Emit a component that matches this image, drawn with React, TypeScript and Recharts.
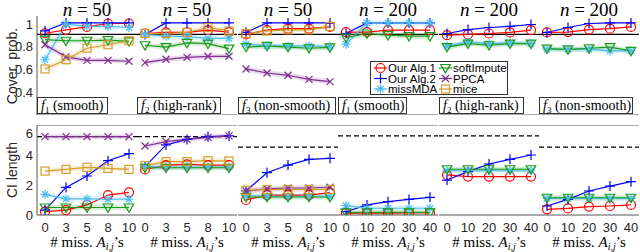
import React from "react"
import { LineChart, Line, XAxis, YAxis, ReferenceLine } from "recharts"

// x positions inside each panel (0..4), labelled by the number of missing entries
const steps = [0, 1, 2, 3, 4]
const ticks50 = ["0", "3", "5", "8", "10"]
const ticks200 = ["0", "10", "20", "30", "40"]
const panelN = [50, 50, 50, 200, 200, 200]
const panelFIdx = ["1", "2", "3", "1", "2", "3"]
const panelFName = ["smooth", "high-rank", "non-smooth", "smooth", "high-rank", "non-smooth"]

// coverage probability, one row per panel
const covAlg1 = [
  [0.91, 0.94, 0.965, 0.995, 0.995],
  [0.908, 0.917, 0.917, 0.937, 0.92],
  [0.9, 0.937, 0.95, 0.95, 0.965],
  [0.92, 0.92, 0.937, 0.937, 0.937],
  [0.893, 0.9, 0.908, 0.917, 0.937],
  [0.917, 0.92, 0.942, 0.95, 0.965],
]
const covAlg2 = [
  [0.93, 1, 1, 1, 1],
  [0.9, 1, 1, 1, 1],
  [0.917, 1, 1, 1, 1],
  [0.908, 1, 1, 1, 1],
  [0.908, 0.942, 0.96, 0.97, 0.986],
  [0.917, 0.96, 0.995, 1, 1],
]
const covMissMDA = [
  [0.68, 0.99, 0.97, 0.97, 0.96],
  [0.9, 0.885, 0.88, 0.865, 0.865],
  [0.815, 0.8, 0.8, 0.8, 0.795],
  [0.815, 1, 1, 1, 1],
  [0.8, 0.835, 0.82, 0.826, 0.82],
  [0.77, 0.77, 0.77, 0.757, 0.757],
]
const covSoft = [
  [0.855, 0.845, 0.845, 0.85, 0.84],
  [0.806, 0.79, 0.826, 0.82, 0.777],
  [0.79, 0.8, 0.79, 0.78, 0.787],
  [0.873, 0.908, 0.893, 0.885, 0.885],
  [0.79, 0.82, 0.806, 0.82, 0.82],
  [0.777, 0.77, 0.78, 0.79, 0.757],
]
const covPPCA = [
  [0.81, 0.705, 0.675, 0.675, 0.667],
  [0.655, 0.684, 0.7, 0.71, 0.71],
  [0.6, 0.565, 0.545, 0.51, 0.49],
  null,
  null,
  null,
]
const covMice = [
  [0.6, 0.68, 0.78, 0.81, 0.845],
  [0.908, 0.908, 0.917, 0.96, 0.93],
  [0.908, 0.93, 0.94, 0.94, 0.97],
  null,
  null,
  null,
]

// CI length, one row per panel
const ciAlg1 = [
  [0.22, 0.33, 0.67, 1.33, 1.51],
  [3.04, 3.33, 3.38, 3.33, 3.33],
  [1.0, 1.33, 1.33, 1.33, 1.49],
  [0.12, 0.12, 0.13, 0.14, 0.15],
  [2.67, 2.56, 2.56, 2.56, 2.56],
  [0.38, 0.44, 0.56, 0.6, 0.67],
]
const ciAlg2 = [
  [0.33, 1.84, 2.6, 3.62, 4.09],
  [3.22, 4.67, 5.04, 5.22, 5.27],
  [1.6, 2.82, 3.33, 3.71, 3.78],
  [0.22, 0.67, 0.89, 1.04, 1.18],
  [2.33, 2.89, 3.4, 3.71, 4.0],
  [0.6, 1.04, 1.6, 1.93, 2.22],
]
const ciMissMDA = [
  [1.38, 1.07, 1.07, 1.05, 1.05],
  [3.22, 3.2, 3.2, 3.2, 3.2],
  [1.3, 1.25, 1.25, 1.25, 1.25],
  [0.62, 0.45, 0.45, 0.45, 0.45],
  [2.95, 2.95, 2.95, 2.95, 2.95],
  [1.11, 1.1, 1.1, 1.1, 1.1],
]
const ciSoft = [
  [0.5, 0.5, 0.5, 0.5, 0.5],
  [3.15, 3.15, 3.15, 3.15, 3.15],
  [1.2, 1.2, 1.2, 1.2, 1.2],
  [0.17, 0.17, 0.17, 0.17, 0.17],
  [3.05, 3.05, 3.05, 3.05, 3.05],
  [1.15, 1.15, 1.15, 1.15, 1.15],
]
const ciPPCA = [
  [5.22, 5.22, 5.22, 5.22, 5.22],
  [4.6, 4.89, 5.04, 5.18, 5.27],
  [1.6, 1.75, 1.8, 1.8, 1.85],
  null,
  null,
  null,
]
const ciMice = [
  [2.93, 3.04, 3.18, 3.11, 3.04],
  [3.29, 3.56, 3.56, 3.62, 3.6],
  [1.65, 1.7, 1.7, 1.7, 1.7],
  null,
  null,
  null,
]
const ciBound = [5.22, 5.22, 4.53, 5.27, 5.27, 4.53]

type Kind = "circle" | "plus" | "star" | "tri" | "x" | "square"

const series: { key: string; name: string; color: string; kind: Kind; band: boolean; cov: (number[] | null)[]; ci: (number[] | null)[] }[] = [
  { key: "alg1", name: "Our Alg.1", color: "#FF0000", kind: "circle", band: false, cov: covAlg1, ci: ciAlg1 },
  { key: "alg2", name: "Our Alg.2", color: "#0000FF", kind: "plus", band: false, cov: covAlg2, ci: ciAlg2 },
  { key: "missMDA", name: "missMDA", color: "#4DBEEE", kind: "star", band: true, cov: covMissMDA, ci: ciMissMDA },
  { key: "soft", name: "softImpute", color: "#1A9A1A", kind: "tri", band: true, cov: covSoft, ci: ciSoft },
  { key: "ppca", name: "PPCA", color: "#7E2F8E", kind: "x", band: true, cov: covPPCA, ci: ciPPCA },
  { key: "mice", name: "mice", color: "#D49E2A", kind: "square", band: true, cov: covMice, ci: ciMice },
]

const SANS = "Liberation Sans"
const SERIF = "Liberation Serif"
const PW = 100
const panelLeft = (k: number) => Math.round(37 + k * 100.4)

function Marker({ cx, cy, kind, color }: { cx?: number; cy?: number; kind: Kind; color: string }) {
  if (cx == null || cy == null || isNaN(cx) || isNaN(cy)) return null
  const sw = 1.2
  switch (kind) {
    case "circle":
      return <circle cx={cx} cy={cy} r={4.5} fill="none" stroke={color} strokeWidth={sw} />
    case "plus":
      return <path d={`M${cx - 5},${cy}H${cx + 5}M${cx},${cy - 5}V${cy + 5}`} stroke={color} strokeWidth={sw} fill="none" />
    case "star":
      return (
        <path
          d={`M${cx - 4.5},${cy}H${cx + 4.5}M${cx},${cy - 4.5}V${cy + 4.5}M${cx - 3.2},${cy - 3.2}L${cx + 3.2},${cy + 3.2}M${cx - 3.2},${cy + 3.2}L${cx + 3.2},${cy - 3.2}`}
          stroke={color}
          strokeWidth={sw}
          fill="none"
        />
      )
    case "tri":
      return <path d={`M${cx - 4.8},${cy - 3.5}L${cx + 4.8},${cy - 3.5}L${cx},${cy + 4.8}Z`} stroke={color} strokeWidth={sw} fill="none" />
    case "x":
      return <path d={`M${cx - 3.5},${cy - 3.5}L${cx + 3.5},${cy + 3.5}M${cx - 3.5},${cy + 3.5}L${cx + 3.5},${cy - 3.5}`} stroke={color} strokeWidth={sw} fill="none" />
    case "square":
      return <rect x={cx - 4} y={cy - 4} width={8} height={8} stroke={color} strokeWidth={sw} fill="none" />
  }
  return null
}

const tickStyle = { fontSize: 13, fill: "#262626", fontFamily: SANS }

function Panel({ k, row }: { k: number; row: "cov" | "ci" }) {
  const first = k === 0
  const isTop = row === "cov"
  const data = steps.map((i) => {
    const d: Record<string, number | null> = { i }
    series.forEach((s) => {
      const arr = s[row][k]
      d[s.key] = arr ? arr[i] : null
    })
    return d
  })
  const shown = series.filter((s) => s[row][k] != null)
  const labels = panelN[k] === 50 ? ticks50 : ticks200
  return (
    <div style={{ position: "absolute", left: first ? 0 : panelLeft(k), top: isTop ? 16 : 125 }}>
      <LineChart width={first ? 37 + PW : PW} height={isTop ? 99 : 120} data={data} margin={{ top: 0, right: 0, bottom: 0, left: 0 }}>
        <XAxis
          type="number"
          dataKey="i"
          domain={[-8 / 21, -8 / 21 + 100 / 21]}
          ticks={steps}
          hide={isTop}
          height={30}
          tickFormatter={(v) => labels[v] ?? ""}
          tickLine={false}
          axisLine={{ stroke: "#555" }}
          tick={tickStyle}
          interval={0}
        />
        <YAxis
          type="number"
          domain={isTop ? [0.2, 1.06] : [0, 6]}
          ticks={isTop ? [0.2, 0.4, 0.6, 0.8, 1] : [0, 2, 4, 6]}
          hide={!first}
          width={37}
          tickSize={2}
          tickMargin={2}
          tickLine={false}
          axisLine={{ stroke: "#555" }}
          tick={tickStyle}
          tickFormatter={(v) => String(v)}
          allowDataOverflow
        />
        {isTop ? <ReferenceLine y={0.2} stroke="#555" /> : <ReferenceLine y={6} stroke="#555" />}
        {isTop && <ReferenceLine y={0.9} stroke="#000" strokeWidth={1.3} />}
        {!isTop && <ReferenceLine y={ciBound[k]} stroke="#000" strokeWidth={1.2} strokeDasharray="5 3" />}
        {shown
          .filter((s) => s.band)
          .map((s) => (
            <Line
              key={s.key + "-band"}
              dataKey={s.key}
              stroke={s.color}
              strokeWidth={5}
              strokeOpacity={0.18}
              dot={false}
              activeDot={false}
              isAnimationActive={false}
            />
          ))}
        {shown.map((s) => (
          <Line
            key={s.key}
            dataKey={s.key}
            name={s.name}
            stroke={s.color}
            strokeWidth={1.2}
            dot={(p: any) => <Marker key={s.key + p.index} cx={p.cx} cy={p.cy} kind={s.kind} color={s.color} />}
            activeDot={false}
            isAnimationActive={false}
          />
        ))}
      </LineChart>
    </div>
  )
}

const boxW = [70, 83, 97, 68, 84, 93]

function Annotations() {
  return (
    <svg width={640} height={252} style={{ position: "absolute", left: 0, top: 0, pointerEvents: "none" }}>
      <text x={17} y={66} transform="rotate(-90 17 66)" textAnchor="middle" fontSize={14} fontFamily={SANS} fill="#262626">
        Cover. prob.
      </text>
      <text x={17} y={170} transform="rotate(-90 17 170)" textAnchor="middle" fontSize={14} fontFamily={SANS} fill="#262626">
        CI length
      </text>
      {panelN.map((n, k) => {
        const cx = panelLeft(k) + PW / 2
        return (
          <g key={k}>
            <text x={cx} y={16} textAnchor="middle" fontSize={19} fontFamily={SERIF} fill="#000">
              <tspan fontStyle="italic">n</tspan> = {n}
            </text>
            <rect x={panelLeft(k) + 0.5} y={97.5} width={boxW[k]} height={16} fill="#fff" stroke="#333" strokeWidth={1} />
            <text x={panelLeft(k) + 4} y={110} fontSize={14} fontFamily={SERIF} fill="#000">
              <tspan fontStyle="italic">f</tspan>
              <tspan fontSize={9} dy={3}>
                {panelFIdx[k]}
              </tspan>
              <tspan dy={-3}> ({panelFName[k]})</tspan>
            </text>
            <text x={cx} y={247} textAnchor="middle" fontSize={15} fontFamily={SERIF} fill="#000">
              # miss. <tspan fontStyle="italic">A</tspan>
              <tspan fontSize={10} dy={3} fontStyle="italic">
                i,j
              </tspan>
              <tspan dy={-3}>’s</tspan>
            </text>
          </g>
        )
      })}
      <rect x={370.5} y={61.5} width={137} height={33} fill="#fff" stroke="#333" strokeWidth={1} />
      {series.map((s, j) => {
        const col = Math.floor(j / 3)
        const r = j % 3
        const x0 = col === 0 ? 374 : 439
        const y = 68 + r * 10.5
        return (
          <g key={s.key}>
            <line x1={x0} x2={x0 + 13} y1={y} y2={y} stroke={s.color} strokeWidth={1.2} />
            <Marker cx={x0 + 6.5} cy={y} kind={s.kind} color={s.color} />
            <text x={x0 + 14} y={y + 4} fontSize={11.5} fontFamily={SANS} fill="#000">
              {s.name}
            </text>
          </g>
        )
      })}
    </svg>
  )
}

export default function App() {
  return (
    <div style={{ position: "absolute", left: 0, top: 0, width: 640, height: 252, background: "#fff", overflow: "hidden" }}>
      {panelN.map((_, k) => (
        <Panel key={"c" + k} k={k} row="cov" />
      ))}
      {panelN.map((_, k) => (
        <Panel key={"l" + k} k={k} row="ci" />
      ))}
      <Annotations />
    </div>
  )
}
